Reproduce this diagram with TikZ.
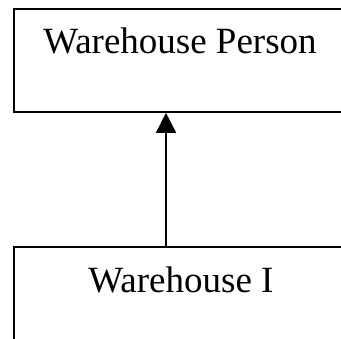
\documentclass[tikz,border=0pt]{standalone}
\usepackage{fontspec}
\setmainfont{Liberation Serif}
\usetikzlibrary{arrows.meta}
\begin{document}
\begin{tikzpicture}[x=1bp,y=-1bp,
  box/.style={draw,line width=1.8bp,rectangle,inner sep=0pt},
  lbl/.style={font=\fontsize{37bp}{40bp}\selectfont,inner sep=0pt,anchor=base},
  conn/.style={line width=1.5bp,-{Triangle[width=20bp,length=20bp]}}]
\useasboundingbox (0,0) rectangle (341,339);
\clip (0,0) rectangle (341,339);
\node[box,minimum width=337bp,minimum height=103bp,anchor=north west] (top) at (13,8) {};
\node[box,minimum width=337bp,minimum height=140bp,anchor=north west] (bot) at (13,246) {};
\node[lbl] (toplbl) at (180,53) {Warehouse Person};
\node[lbl] (botlbl) at (181,292) {Warehouse I};
\coordinate (a) at (166,246);
\coordinate (b) at (166,111);
\draw[conn] (bot.north -| a) -- (top.south -| b);
\end{tikzpicture}
\end{document}
